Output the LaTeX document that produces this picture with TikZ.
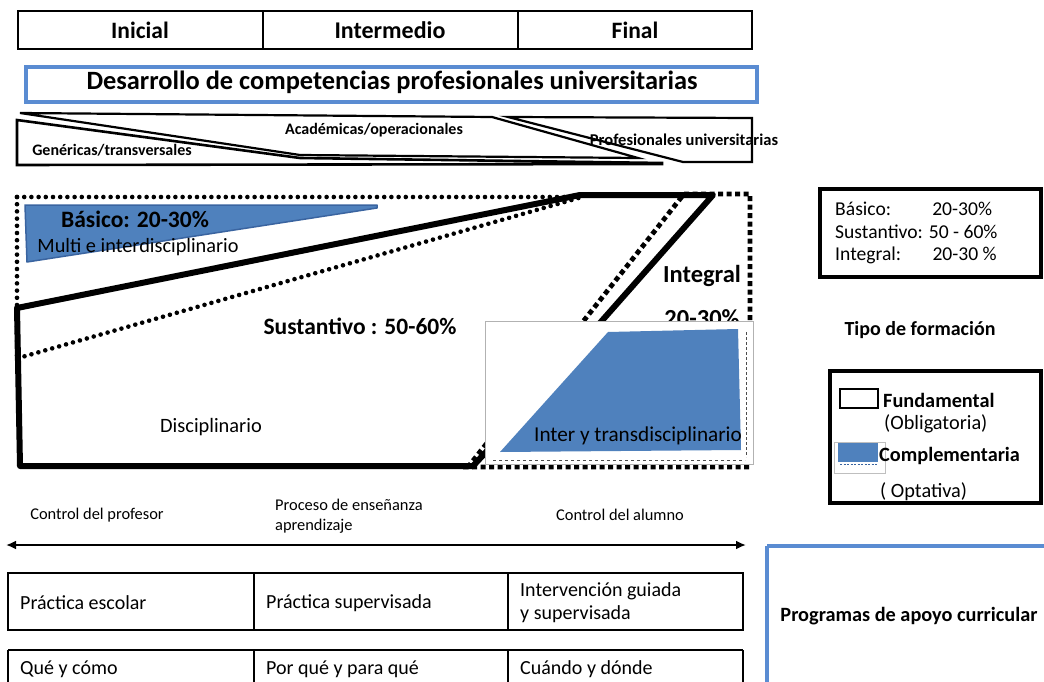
\documentclass[tikz,border=0pt]{standalone}
\usepackage{fontspec}
\setmainfont{Carlito}
\usetikzlibrary{arrows.meta}
\definecolor{blu}{HTML}{4F81BD}
\definecolor{bludark}{HTML}{3A64A0}
\definecolor{bluframe}{HTML}{5A8CD2}
\begin{document}
\begin{tikzpicture}[x=1pt,y=-1pt,
  txt/.style={inner sep=0pt, font=\fontsize{#1}{#1}\selectfont},
  btxt/.style={inner sep=0pt, font=\fontsize{#1}{#1}\selectfont\bfseries},
  frame/.style={draw=black, line width=2.5pt},
  bframe/.style={draw=bluframe, line width=4pt},
  dots/.style={line width=4.6pt, line cap=round, dash pattern=on 0pt off 7.2pt},
  sqdash/.style={line width=4.8pt, dash pattern=on 5pt off 3.5pt},
  heavy/.style={line width=6pt, line join=round},
  wedge/.style={draw=black, line width=2.2pt, line join=miter},
]
\useasboundingbox (0,0) rectangle (1044,682);
\fill[white] (0,0) rectangle (1044,682);

% ---------- top table ----------
\draw[frame] (18,11) rectangle (752,49);
\draw[frame] (263,11) -- (263,49);
\draw[frame] (518,11) -- (518,49);
\node[btxt=23.5] (ini) at (140,30) {Inicial};
\node[btxt=24] (intm) at (390,30) {Intermedio};
\node[btxt=23.5] (fin) at (635,30) {Final};

% ---------- title box ----------
\draw[bframe] (26,67) rectangle (757,102);
\node[btxt=26.4] (title) at (392,82) {Desarrollo de competencias profesionales universitarias};

% ---------- wedges ----------
\draw[wedge] (20,113) -- (492,117) -- (638,158) -- (300,155) -- cycle;
\draw[wedge, line width=2.6pt] (17,120) -- (300,158) -- (662,163) -- (662,164) -- (17,165) -- cycle;
\draw[wedge] (508,117) -- (752,118) -- (752,162) -- (683,162) -- cycle;
\node[btxt=16] (acad) at (374,130) {Académicas/operacionales};
\node[btxt=16] (gen) at (112,150) {Genéricas/transversales};
\node[btxt=16.5] (prof) at (684,140) {Profesionales universitarias};

% ---------- main diagram ----------
% basico dotted region
\draw[dots] (17,197) -- (582,197) -- (22,357);
\draw[dots] (17,197) -- (17,357);
% basico blue wedge
\draw[fill=blu, draw=bludark, line width=1.5pt, line join=round]
  (25,205) -- (377,205) -- (377,208) -- (27,262) -- cycle;
% integral dashed region
\draw[sqdash] (684,194) -- (750,194) -- (750,467) -- (468,467) -- cycle;
% sustantivo heavy outline
\draw[heavy] (17,308) -- (580,195) -- (713,195) -- (486,452) -- (473,466) -- (20,466) -- cycle;

\node[btxt=23.5] (bas) at (135,219) {Básico: 20-30\%};
\node[txt=20.3] (multi) at (138,247) {Multi e interdisciplinario};
\node[btxt=23.5] (sust) at (360,326) {Sustantivo : 50-60\%};
\node[txt=20.4] (disc) at (211,427) {Disciplinario};
\node[btxt=24.5] (integ) at (702,276) {Integral};
\node[btxt=24.5] (integp) at (702,318) {20-30\%};

% inset picture
\draw[fill=white, draw=black!30, line width=0.8pt] (485,321) rectangle (753,464);
\fill[blu] (500,452) -- (608,332) -- (738,329) -- (741,450) -- cycle;
\draw[black!70, line width=0.6pt, dash pattern=on 3pt off 2pt] (746,332) -- (746,457);
\draw[black!70, line width=0.8pt, dash pattern=on 3pt off 3pt] (493,460) -- (745,460);
\node[txt=21.2] (inter) at (638,436) {Inter y transdisciplinario};

% ---------- legend ----------
\draw[line width=4pt] (820,189) rectangle (1041,277);
\node[txt=19.6, anchor=west] (l1) at (835,209) {Básico:\hspace{2.1em}20-30\%};
\node[txt=19.6, anchor=west] (l2) at (835,232) {Sustantivo: 50 - 60\%};
\node[txt=19.6, anchor=west] (l3) at (835,255) {Integral:\hspace{1.6em}20-30 \%};

\node[btxt=20] (tipo) at (920,330) {Tipo de formación};

\draw[line width=4pt] (830,371) rectangle (1041,503);
\draw[line width=1.8pt] (840,389) rectangle (878,408);
\node[btxt=20.3, anchor=west] (fund) at (883,400) {Fundamental};
\node[txt=20.3, anchor=west] (obl) at (884,424) {(Obligatoria)};
\draw[black!25, line width=0.6pt] (834,442) rectangle (885,473);
\fill[blu] (838,443) rectangle (878,462);
\draw[bludark, line width=1pt, dash pattern=on 2pt off 1.5pt] (840,464) -- (877,464);
\node[btxt=20.3, anchor=west] (comp) at (879,456) {Complementaria};
\node[txt=20.3, anchor=west] (opt) at (880,492) {( Optativa)};

% ---------- bottom ----------
\node[txt=16.4] (cprof) at (97,515) {Control del profesor};
\node[txt=16.4, anchor=west] (proc1) at (275,505) {Proceso de enseñanza};
\node[txt=16.4, anchor=west] (proc2) at (275,526) {aprendizaje};
\node[txt=16.4] (calum) at (620,515) {Control del alumno};
\coordinate (aL) at (6,545);
\coordinate (aR) at (746,545);
\draw[{Latex[length=10pt,width=9pt]}-{Latex[length=10pt,width=9pt]}, line width=2pt] (aL) -- (aR);

\draw[frame] (8,573) rectangle (743,630);
\draw[frame] (254,573) -- (254,630);
\draw[frame] (508,573) -- (508,630);
\node[txt=20, anchor=west] (r11) at (20,603) {Práctica escolar};
\node[txt=20, anchor=west] (r12) at (266,603) {Práctica supervisada};
\node[txt=20, anchor=west] (r13a) at (520,591) {Intervención guiada};
\node[txt=20, anchor=west] (r13b) at (520,614) {y supervisada};

\draw[frame] (8,650) -- (743,650);
\draw[frame] (8,650) -- (8,690);
\draw[frame] (254,650) -- (254,690);
\draw[frame] (508,650) -- (508,690);
\draw[frame] (743,650) -- (743,690);
\node[txt=20, anchor=west] (r21) at (20,669) {Qué y cómo};
\node[txt=20, anchor=west] (r22) at (266,669) {Por qué y para qué};
\node[txt=20, anchor=west] (r23) at (520,669) {Cuándo y dónde};

\draw[bframe] (767,546) -- (1050,546);
\draw[bframe] (767,546) -- (767,690);
\node[btxt=20.3] (prog) at (909,616) {Programas de apoyo curricular};
\end{tikzpicture}
\end{document}
